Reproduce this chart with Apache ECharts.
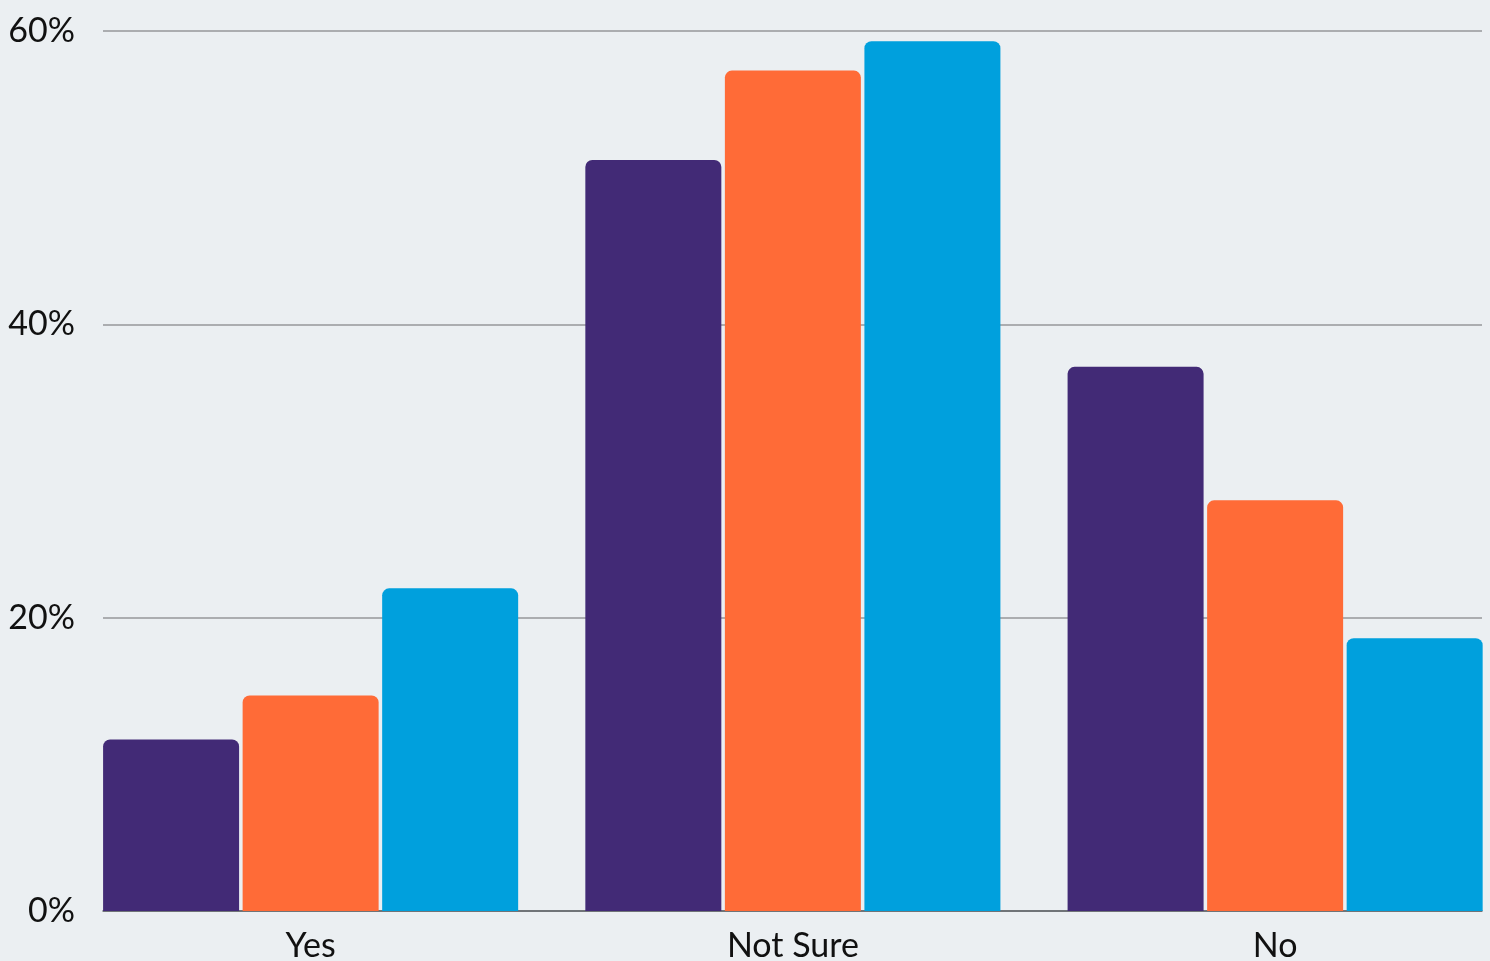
<!DOCTYPE html>
<html>
<head>
<meta charset="utf-8">
<style>
  html, body { margin: 0; padding: 0; background: #EBEFF2; }
  #chart { width: 1490px; height: 961px; }
</style>
<script src="https://cdn.jsdelivr.net/npm/echarts@6/dist/echarts.min.js"></script>
</head>
<body>
<div id="chart"></div>
<script>
// Answer categories and the share of respondents (%) for each of three groups
const categories = ['Yes', 'Not Sure', 'No'];
const groupA = [11.7, 51.2, 37.1];
const groupB = [14.7, 57.3, 28.0];
const groupC = [22.0, 59.3, 18.6];
const yTicks = [0, 20, 40, 60];

const colors = ['#422A76', '#FF6B37', '#00A0DD'];
const font = 'Lato, "Noto Sans", sans-serif';

const chart = echarts.init(document.getElementById('chart'), null, { renderer: 'canvas' });

function barSeries(name, data, color) {
  return {
    name: name,
    type: 'bar',
    xAxisIndex: 0,
    yAxisIndex: 0,
    data: data,
    barWidth: 136,
    barGap: '2.6%',
    itemStyle: {
      color: color,
      borderRadius: [7, 7, 0, 0]
    }
  };
}

chart.setOption({
  backgroundColor: '#EBEFF2',
  animation: false,
  grid: [
    // bars: category bands are wider than the value frame so groups sit flush with it
    { left: 69.5, width: 1446.75, top: 31, bottom: 50, containLabel: false, outerBoundsMode: 'none' },
    // value frame: gridlines, y labels and baseline
    { left: 103, right: 8, top: 31, bottom: 50, containLabel: false, outerBoundsMode: 'none' }
  ],
  xAxis: [
    {
      type: 'category',
      gridIndex: 0,
      data: categories,
      axisLine: { show: false },
      axisTick: { show: false },
      axisLabel: {
        color: '#111',
        fontFamily: font,
        fontSize: 34,
        margin: 18
      }
    },
    {
      type: 'value',
      gridIndex: 1,
      min: 0, max: 1,
      axisLine: { show: true, onZero: false, lineStyle: { color: '#5E6166', width: 1.5 } },
      axisTick: { show: false },
      axisLabel: { show: false },
      splitLine: { show: false }
    }
  ],
  yAxis: [
    {
      type: 'value',
      gridIndex: 0,
      min: 0, max: 60, interval: 20,
      axisLine: { show: false },
      axisTick: { show: false },
      axisLabel: { show: false },
      splitLine: { show: false }
    },
    {
      type: 'value',
      gridIndex: 1,
      min: yTicks[0], max: yTicks[yTicks.length - 1], interval: 20,
      axisLine: { show: false },
      axisTick: { show: false },
      axisLabel: {
        color: '#111',
        fontFamily: font,
        fontSize: 34,
        margin: 28,
        padding: [0, 0, 6, 0],
        formatter: v => v + '%'
      },
      splitLine: {
        show: true,
        lineStyle: { color: '#ABADB0', width: 2 }
      },
      z: 0
    }
  ],
  series: [
    // empty series so the frame grid is drawn
    { type: 'line', xAxisIndex: 1, yAxisIndex: 1, data: [], silent: true },
    barSeries('Group A', groupA, colors[0]),
    barSeries('Group B', groupB, colors[1]),
    barSeries('Group C', groupC, colors[2])
  ]
});
</script>
</body>
</html>
